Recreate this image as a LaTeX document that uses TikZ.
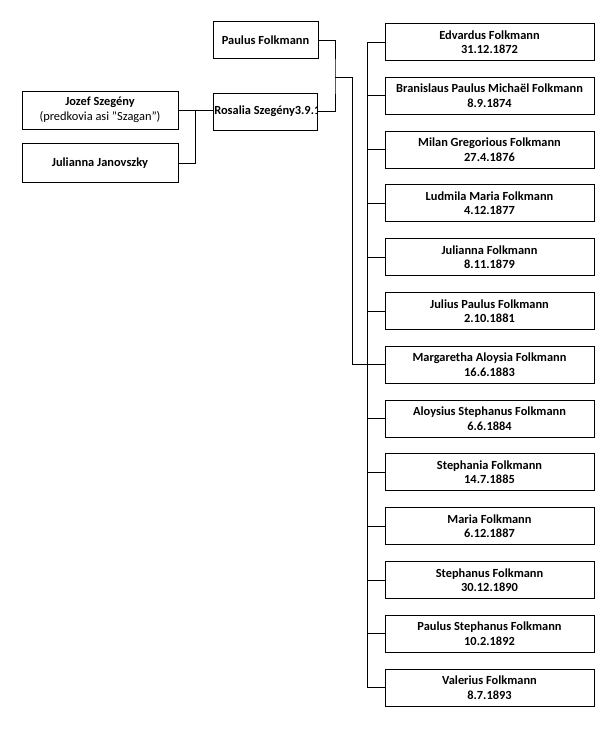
\documentclass[tikz,border=0pt]{standalone}
\usepackage{fontspec}
\setmainfont{Carlito}
\begin{document}
\begin{tikzpicture}[x=1pt,y=-1pt,
  txt/.style={font=\bfseries\fontsize{12.4}{14.5}\selectfont},
  box/.style={draw, line width=0.9pt, minimum height=37pt, align=center,
    txt, inner sep=0pt},
  kid/.style={box, minimum width=209pt},
  conn/.style={line width=0.8pt}]
\useasboundingbox (0,0) rectangle (602,739);
% parents
\node[box, minimum width=105pt] (paulus) at (265.5,40) {Paulus Folkmann};
\node[box, minimum width=104pt] (rosalia) at (265,111.5) {};
\begin{scope}
  \clip (rosalia.south west) rectangle (rosalia.north east);
  \node[txt, anchor=west, inner sep=0pt]
    (rosaliatext) at ([xshift=1.5pt]rosalia.west) {Rosalia Szegény3.9.1};
\end{scope}
\node[box, minimum width=156pt, minimum height=38pt] (jozef) at (100,110)
  {Jozef Szegény\\\mdseries(predkovia asi "Szagan")};
\node[box, minimum width=156pt, minimum height=39pt] (julianna) at (100,163)
  {Julianna Janovszky};
% children
\foreach \i/\t in {1/{Edvardus Folkmann\\31.12.1872},
  2/{Branislaus Paulus Michaël Folkmann\\8.9.1874},
  3/{Milan Gregorious Folkmann\\27.4.1876},
  4/{Ludmila Maria Folkmann\\4.12.1877},
  5/{Julianna Folkmann\\8.11.1879},
  6/{Julius Paulus Folkmann\\2.10.1881},
  7/{Margaretha Aloysia Folkmann\\16.6.1883},
  8/{Aloysius Stephanus Folkmann\\6.6.1884},
  9/{Stephania Folkmann\\14.7.1885},
  10/{Maria Folkmann\\6.12.1887},
  11/{Stephanus Folkmann\\30.12.1890},
  12/{Paulus Stephanus Folkmann\\10.2.1892},
  13/{Valerius Folkmann\\8.7.1893}}
  \node[kid] (c\i) at (489.5,{42+(\i-1)*53.8}) {\t};
% connectors
\coordinate (pj) at (335,77);
\coordinate (pd) at (352,77);
\draw[conn] (paulus.east) -| (pj) |- (rosalia.east);
\draw[conn] (pj) -- (pd) |- (c7.west);
\draw[conn] (jozef.east) -- (jozef.east -| rosalia.west);
\coordinate (jj) at (195,110);
\draw[conn] (jj) |- (julianna.east);
\draw[conn] (c1.west) -- ++(-17,0) |- (c13.west);
\foreach \i in {2,...,12}
  \draw[conn] (c\i.west) -- ++(-17,0);
\end{tikzpicture}
\end{document}
